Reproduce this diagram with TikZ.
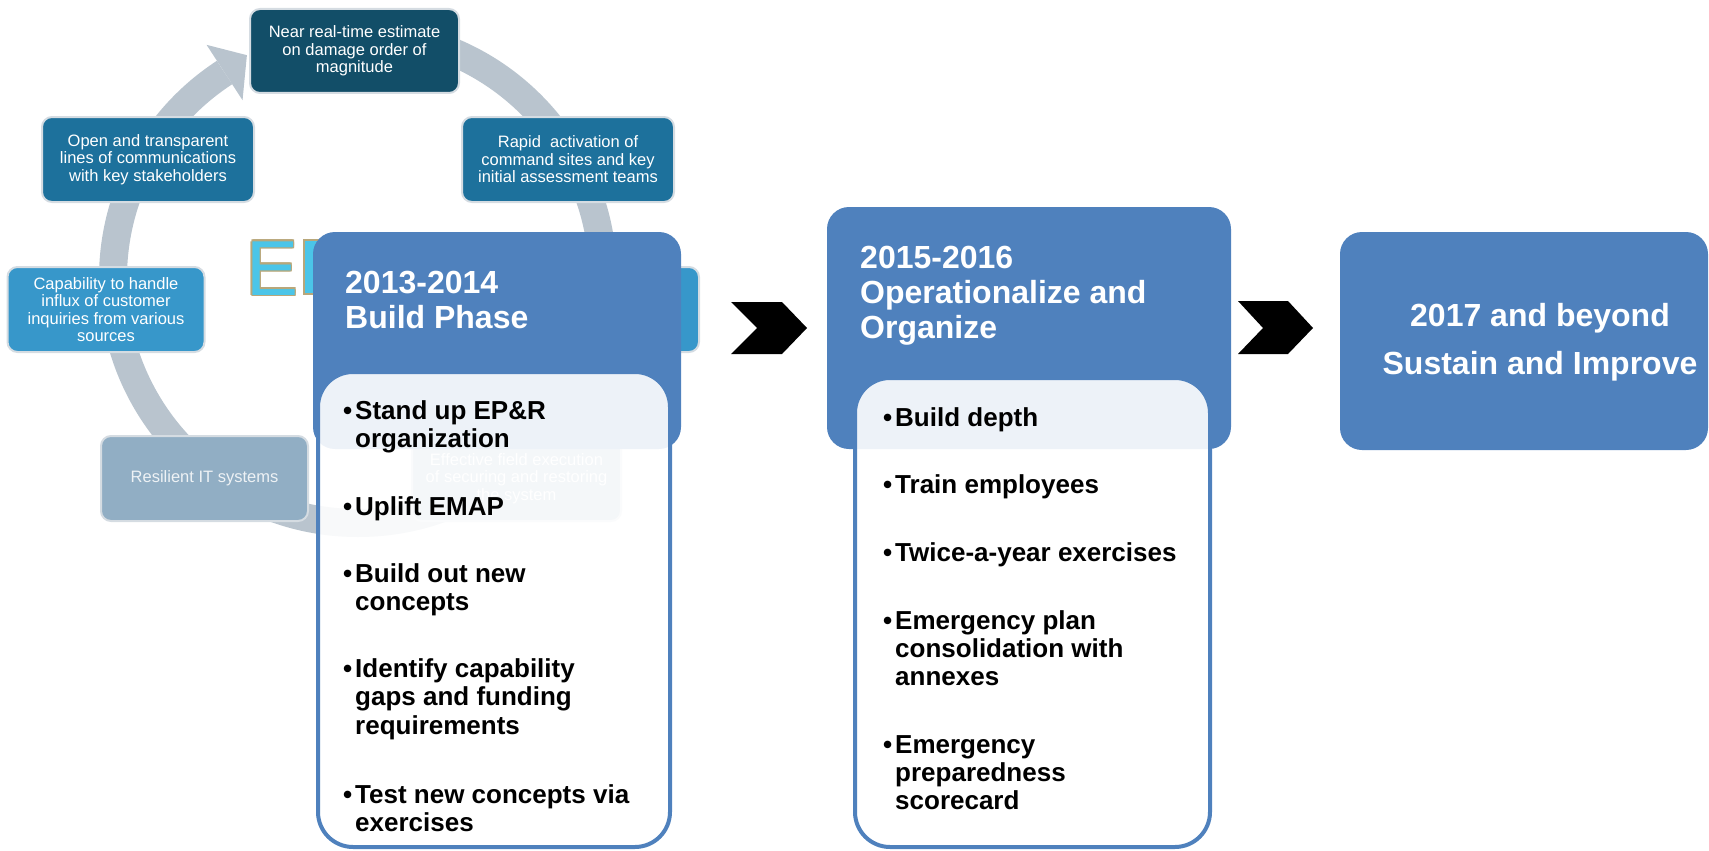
\documentclass[tikz,border=0pt]{standalone}
\usepackage{fontspec}
\setmainfont{Liberation Sans}
\definecolor{hdr}{HTML}{4F81BD}
\definecolor{ringc}{HTML}{B9C4CE}
\definecolor{topc}{HTML}{124E68}
\definecolor{midc}{HTML}{1D719C}
\definecolor{capc}{HTML}{3797CA}
\definecolor{resc}{HTML}{91AEC4}
\definecolor{cycb}{HTML}{D5DCE2}
\definecolor{Ecyan}{HTML}{4BC5E8}
\definecolor{Etan}{HTML}{B8A77A}
\definecolor{restext}{HTML}{EEF2F5}
\newcommand{\bul}{\makebox[12pt][l]{•}}
\newcommand{\ind}{\hspace*{12pt}}
\begin{document}
\begin{tikzpicture}[x=1pt,y=-1pt,
  cyc/.style={draw=cycb, line width=2pt, rounded corners=10pt, text=white, align=center, inner sep=0pt, font=\fontsize{16.5}{17.5}\selectfont},
  hdrbox/.style={fill=hdr, rounded corners=22pt, inner sep=0pt},
  innerbox/.style={fill=white, fill opacity=0.9, draw=hdr, line width=4pt, rounded corners=35pt, inner sep=0pt},
  htext/.style={text=white, font=\fontsize{32}{35}\selectfont\bfseries, inner sep=0pt, anchor=base west},
  btext/.style={text=black, font=\fontsize{26}{28.5}\selectfont\bfseries, inner sep=0pt, anchor=base west},
  chev/.style={fill=black},
  ring/.style={draw=ringc, line width=28pt},
  bigE/.style={font=\fontsize{78}{78}\selectfont, inner sep=0pt, anchor=base west}
]
\useasboundingbox (0,0) rectangle (1709,851);

% circular arrow
\begin{scope}[shift={(358,278)}, y=1pt]
  \draw[ring] (90:245pt) arc[start angle=90, end angle=-237, radius=245pt];
  \fill[ringc] (-237:212pt) -- (-243.5:249pt) -- (-237:278pt) -- cycle;
\end{scope}

% cycle boxes
\node[cyc, fill=topc, minimum width=209pt, minimum height=84pt] (top) at (354.5,51) {Near real-time estimate\\on damage order of\\magnitude};
\node[cyc, fill=midc, minimum width=212pt, minimum height=85pt] (open) at (148,159.5) {Open and transparent\\lines of communications\\with key stakeholders};
\node[cyc, fill=midc, minimum width=212pt, minimum height=85pt] (rapid) at (568,159.5) {Rapid\ \ activation of\\command sites and key\\initial assessment teams};
\node[cyc, fill=capc, minimum width=197pt, minimum height=85pt] (cap) at (106,309.5) {Capability to handle\\influx of customer\\inquiries from various\\sources};
\node[cyc, fill=capc, minimum width=197pt, minimum height=85pt] (rmid) at (600.5,309.5) {};
\node[cyc, fill=resc, text=restext, minimum width=207pt, minimum height=85pt] (res) at (204.5,478.5) {Resilient IT systems};
\node[cyc, fill=resc, minimum width=209pt, minimum height=85pt] (eff) at (516.5,478.5) {Effective field execution\\of securing and restoring\\the system};

% big letter
\foreach \dx/\dy [count=\i] in {-1.5/0,1.5/0,0/-1.5,0/1.5,-1.1/-1.1,1.1/-1.1,-1.1/1.1,1.1/1.1}
  \node[bigE, text=Etan] (Eo\i) at (246+\dx,295+\dy) {E};
\node[bigE, text=Ecyan] (E) at (246,295) {E};
\filldraw[fill=Ecyan, draw=Etan, line width=1.5pt] (304,240) rectangle (318,294);

% phase boxes
\node[hdrbox, minimum width=368pt, minimum height=217pt] (h1) at (497,340.5) {};
\node[innerbox, minimum width=352pt, minimum height=475pt] (i1) at (494,609.5) {};
\node[hdrbox, minimum width=404pt, minimum height=242pt] (h2) at (1029,328) {};
\node[innerbox, minimum width=355pt, minimum height=469pt] (i2) at (1032.5,612.5) {};
\node[hdrbox, minimum width=368pt, minimum height=218pt] (h3) at (1524,341) {};

% headers
\node[htext] (h1a) at (345,293) {2013-2014};
\node[htext] (h1b) at (345,328) {Build Phase};
\node[htext] (h2a) at (860,268) {2015-2016};
\node[htext] (h2b) at (860,303) {Operationalize and};
\node[htext] (h2c) at (860,338) {Organize};
\node[htext, anchor=base] (h3a) at (1540,326) {2017 and beyond};
\node[htext, anchor=base] (h3b) at (1540,374) {Sustain and Improve};

% bullets box 1
\node[btext] (a1) at (343,419) {\bul Stand up EP\&R};
\node[btext] (a2) at (343,447.5) {\ind organization};
\node[btext] (a3) at (343,515) {\bul Uplift EMAP};
\node[btext] (a4) at (343,582) {\bul Build out new};
\node[btext] (a5) at (343,610.5) {\ind concepts};
\node[btext] (a6) at (343,677) {\bul Identify capability};
\node[btext] (a7) at (343,705.5) {\ind gaps and funding};
\node[btext] (a8) at (343,734) {\ind requirements};
\node[btext] (a9) at (343,803) {\bul Test new concepts via};
\node[btext] (a10) at (343,831.5) {\ind exercises};

% bullets box 2
\node[btext] (b1) at (883,426) {\bul Build depth};
\node[btext] (b2) at (883,493) {\bul Train employees};
\node[btext] (b3) at (883,561) {\bul Twice-a-year exercises};
\node[btext] (b4) at (883,629) {\bul Emergency plan};
\node[btext] (b5) at (883,657) {\ind consolidation with};
\node[btext] (b6) at (883,685) {\ind annexes};
\node[btext] (b7) at (883,753) {\bul Emergency};
\node[btext] (b8) at (883,781) {\ind preparedness};
\node[btext] (b9) at (883,809) {\ind scorecard};

% chevrons
\fill[chev] (731,302) -- (782,302) -- (807,328) -- (782,354) -- (731,354) -- (757,328) -- cycle;
\fill[chev] (1238,301) -- (1288,301) -- (1313,328) -- (1288,354) -- (1238,354) -- (1263,328) -- cycle;
\end{tikzpicture}
\end{document}
